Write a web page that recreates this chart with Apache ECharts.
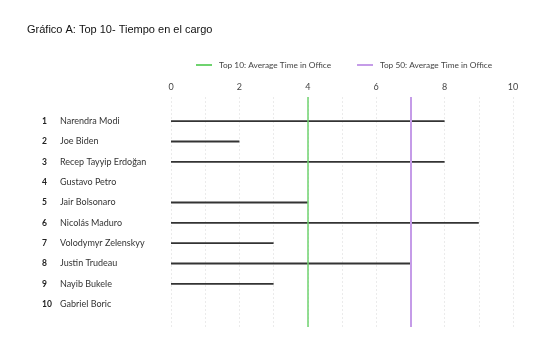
<!DOCTYPE html>
<html>
<head>
<meta charset="utf-8">
<script src="https://cdn.jsdelivr.net/npm/echarts@6/dist/echarts.min.js"></script>
<style>html,body{margin:0;padding:0;background:#fff}#c{width:547px;height:350px}</style>
</head>
<body>
<div id="c"></div>
<script>
const titleText = 'Gráfico A: Top 10- Tiempo en el cargo';
const ranks = ['1','2','3','4','5','6','7','8','9','10'];
const leaders = ['Narendra Modi','Joe Biden','Recep Tayyip Erdoğan','Gustavo Petro','Jair Bolsonaro','Nicolás Maduro','Volodymyr Zelenskyy','Justin Trudeau','Nayib Bukele','Gabriel Boric'];
const yearsInOffice = [8,2,8,0,4,9,3,7,3,0];
const avgTop10 = 4;
const avgTop50 = 7;
const seriesNames = ['Top 10: Average Time in Office','Top 50: Average Time in Office'];
const tickValues = [0,2,4,6,8,10];

const chart = echarts.init(document.getElementById('c'), null, {renderer:'canvas'});
const font = 'Lato, "Noto Sans", sans-serif';
chart.setOption({
  animation:false,
  title:{text:titleText,left:27,top:24,padding:0,textStyle:{fontFamily:'"Liberation Sans", Arial, sans-serif',fontSize:11,fontWeight:'normal',color:'#111'}},
  legend:{
    data:seriesNames, top:61, left:196, padding:0, itemGap:26, itemWidth:16, itemHeight:2,
    icon:'rect',
    textStyle:{fontFamily:font,fontSize:8.3,color:'#444',padding:[0,0,0,2]}
  },
  grid:[
    {left:171,right:34,top:111,height:203.3,containLabel:false},
    {left:171,right:34,top:97,bottom:23,containLabel:false}
  ],
  xAxis:[
    {gridIndex:0,type:'value',min:0,max:10,show:false},
    {gridIndex:1,type:'value',position:'top',min:0,max:10,interval:1,
     axisLine:{show:false},axisTick:{show:false},
     axisLabel:{margin:5,fontFamily:font,fontSize:9,color:'#444',
       formatter:v=>tickValues.indexOf(v)>=0?String(v):''},
     splitLine:{show:true,lineStyle:{type:[2,2],color:'#ebebeb',width:1}}}
  ],
  yAxis:[
    {gridIndex:0,type:'category',inverse:true,data:leaders,
     axisLine:{show:false},axisTick:{show:false},splitLine:{show:false},
     axisLabel:{align:'left',margin:129,
       formatter:(v,i)=>'{r|'+ranks[i]+'}{n|'+v+'}',
       rich:{r:{width:18,fontFamily:font,fontSize:8.5,fontWeight:'bold',color:'#222'},
             n:{fontFamily:font,fontSize:9,color:'#333'}}}},
    {gridIndex:1,type:'value',min:0,max:1,show:false}
  ],
  series:[
    {type:'bar',xAxisIndex:0,yAxisIndex:0,data:yearsInOffice,barWidth:1.8,itemStyle:{color:'#333'},silent:true},
    {name:seriesNames[0],type:'line',xAxisIndex:1,yAxisIndex:1,data:[],symbol:'none',color:'#6fd36f',
     markLine:{symbol:'none',silent:true,label:{show:false},lineStyle:{color:'#6fd36f',type:'solid',width:1.5},data:[{xAxis:avgTop10}]}},
    {name:seriesNames[1],type:'line',xAxisIndex:1,yAxisIndex:1,data:[],symbol:'none',color:'#c59ce8',
     markLine:{symbol:'none',silent:true,label:{show:false},lineStyle:{color:'#c59ce8',type:'solid',width:2},data:[{xAxis:avgTop50}]}}
  ]
});
</script>
</body>
</html>
